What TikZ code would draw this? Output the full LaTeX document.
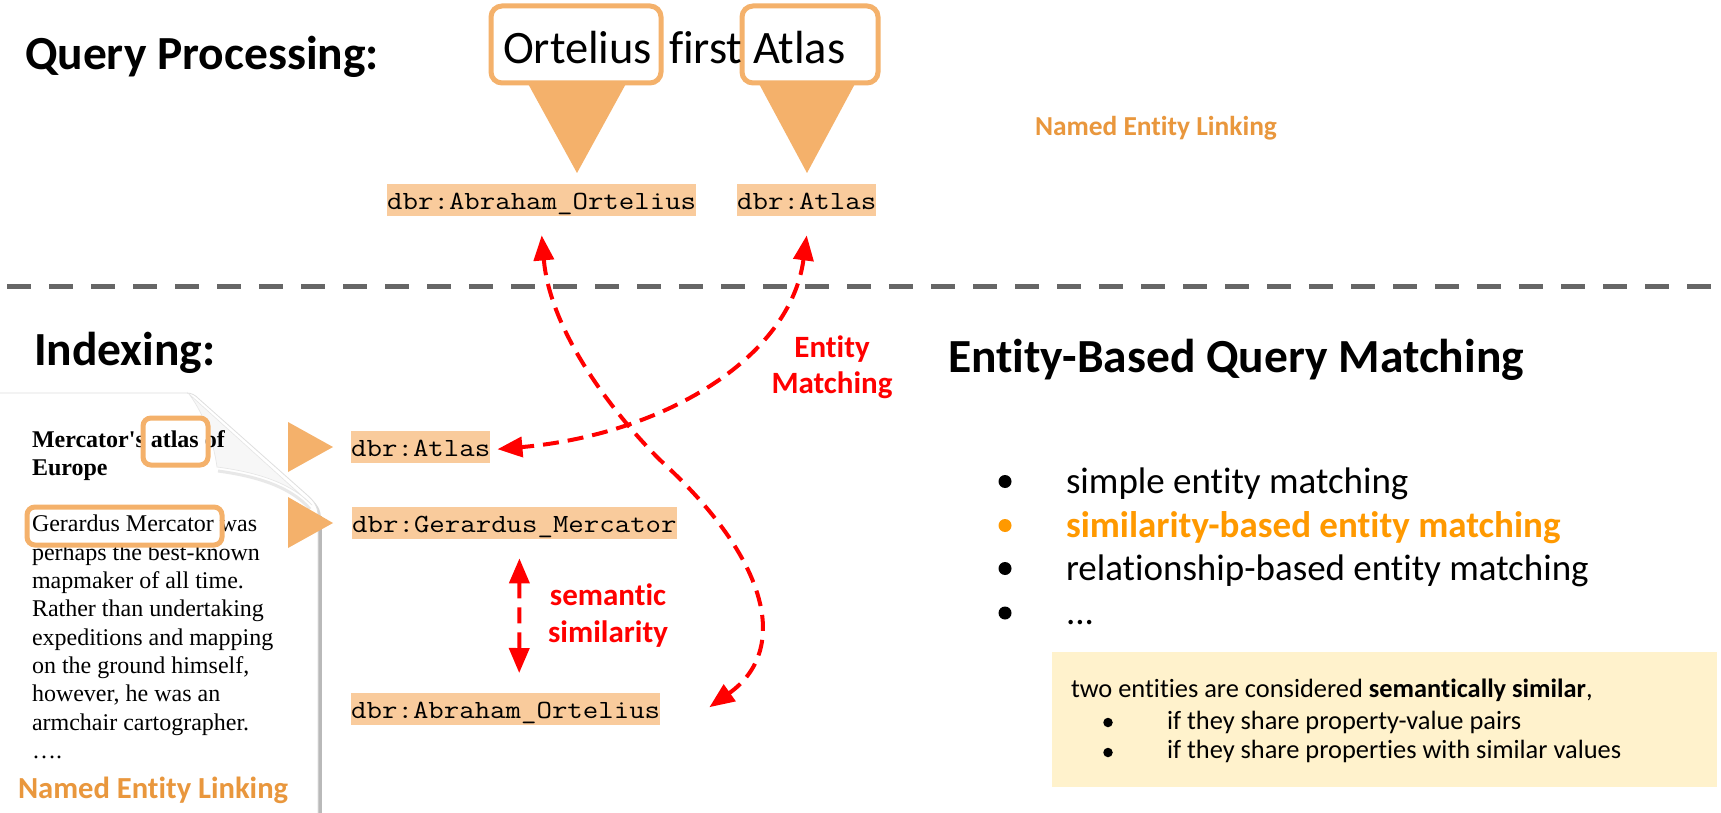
\documentclass[tikz,border=0pt]{standalone}
\usepackage{fontspec}
\setmainfont{Carlito}[Ligatures=NoCommon]
\newfontfamily\monof{Latin Modern Mono}[FakeStretch=1.145]
\newfontfamily\seriff{Liberation Serif}
\usetikzlibrary{arrows.meta}
\definecolor{hl}{HTML}{F4B16B}
\definecolor{peach}{HTML}{F9CB9C}
\definecolor{nel}{HTML}{E9973D}
\definecolor{simor}{HTML}{FF9900}
\definecolor{note}{HTML}{FFF2CC}
\definecolor{sepgray}{HTML}{666666}
\definecolor{arr}{HTML}{FF0000}
\begin{document}
\begin{tikzpicture}[x=1pt,y=-1pt,
  txt/.style={anchor=base west, inner sep=0pt, outer sep=0pt},
  heading/.style={txt, font=\fontsize{47.5}{57}\selectfont\bfseries},
  query/.style={txt, font=\fontsize{46.5}{56}\selectfont},
  qbox/.style={draw=hl, fill=white, line width=5pt, rounded corners=11pt, inner sep=0pt, minimum height=77pt},
  dbox/.style={draw=hl, line width=5pt, rounded corners=8pt, inner sep=0pt},
  entity/.style={fill=peach, anchor=north west, inner xsep=0pt, inner ysep=0pt, font=\fontsize{26.2}{30}\selectfont\monof, text height=25pt, text depth=7pt},
  link/.style={draw=arr, line width=4pt, dash pattern=on 16pt off 9pt, {Triangle[length=25pt,width=20pt]}-{Triangle[length=25pt,width=20pt]}},
  redlbl/.style={anchor=base, inner sep=0pt, text=arr, font=\fontsize{31}{36}\selectfont\bfseries},
  nellbl/.style={txt, text=nel, font=\bfseries},
  doc/.style={txt, font=\fontsize{24}{28}\selectfont\seriff},
  item/.style={txt, font=\fontsize{37}{44}\selectfont},
  bul/.style={circle, fill=black, inner sep=0pt, minimum size=13pt},
  notetxt/.style={txt, font=\fontsize{26.4}{31}\selectfont},
  nbul/.style={circle, fill=black, inner sep=0pt, minimum size=9.5pt}
]
\useasboundingbox (0,0) rectangle (1721,813);
\fill[white] (0,0) rectangle (1721,813);

% ---------- headings
\node[heading] (hq) at (25,70) {Query Processing:};
\node[heading] (hi) at (34,365) {Indexing:};
\node[heading] (hm) at (948,372) {Entity-Based Query Matching};

% ---------- query
\fill[hl] (526,80) -- (628,80) -- (577,173) -- cycle;
\fill[hl] (757,80) -- (857,80) -- (807,173) -- cycle;
\node[qbox, minimum width=170pt] (obox) at (576,44.5) {};
\node[qbox, minimum width=136pt] (abox) at (810,44.5) {};
\node[query] (qort) at (503,64) {Ortelius};
\node[query] (qfirst) at (669,64) {first};
\node[query] (qatl) at (753,64) {Atlas};

\node[entity] (tOrt) at (387,184) {dbr:Abraham\_Ortelius};
\node[entity] (tAtl) at (737,184) {dbr:Atlas};

\node[nellbl, font=\fontsize{27.4}{33}\selectfont\bfseries] (nelTop) at (1035,136) {Named Entity Linking};

% ---------- separator
\coordinate (sepL) at (7,286);
\coordinate (sepR) at (1721,286);
\draw[sepgray, line width=5pt, dash pattern=on 24pt off 18pt] (sepL) -- (sepR);

% ---------- document page
\fill[gray!30] (-5,395) -- (188,395) .. controls (194,395) and (197,397) .. (201,401) -- (309,497) .. controls (317,504) and (321,509) .. (321,519) -- (321,820) -- (-5,820) -- cycle;
\fill[gray!55] (318,516) rectangle (322,820);
\fill[white, draw=gray!25, line width=0.8pt] (-5,393) -- (186,393) .. controls (192,393) and (195,395) .. (199,399) -- (306,494) .. controls (314,501) and (318,506) .. (318,516) -- (318,820) -- (-5,820) -- cycle;
\draw[gray!30, line width=3pt, opacity=0.6] (218,471) .. controls (255,476) and (290,486) .. (310,509);
\fill[gray!6, draw=gray!20, line width=0.6pt] (189,394) .. controls (205,415) and (214,445) .. (217,467) .. controls (255,472) and (290,482) .. (312,505) -- cycle;

\node[doc, font=\fontsize{24}{28}\selectfont\seriff\bfseries] (d1) at (32,447) {Mercator's atlas of};
\node[doc, font=\fontsize{24}{28}\selectfont\seriff\bfseries] (d2) at (32,475.3) {Europe};
\node[doc] (d3) at (32,531.9) {Gerardus Mercator was};
\node[doc] (d4) at (32,560.2) {perhaps the best-known};
\node[doc] (d5) at (32,588.5) {mapmaker of all time.};
\node[doc] (d6) at (32,616.8) {Rather than undertaking};
\node[doc] (d7) at (32,645.1) {expeditions and mapping};
\node[doc] (d8) at (32,673.4) {on the ground himself,};
\node[doc] (d9) at (32,701.7) {however, he was an};
\node[doc] (d10) at (32,730) {armchair cartographer.};
\node[doc] (d11) at (32,758.3) {….};

\node[dbox, minimum width=65pt, minimum height=47pt] (hlAtlas) at (175.5,441.5) {};
\node[dbox, minimum width=195pt, minimum height=38pt] (hlMerc) at (124.5,526) {};

\node[nellbl, font=\fontsize{30.6}{36}\selectfont\bfseries] (nelBot) at (18,798) {Named Entity Linking};

\fill[hl] (288,422) -- (288,472) -- (333,447) -- cycle;
\fill[hl] (288,497) -- (288,548) -- (333,523) -- cycle;

% ---------- index entities
\node[entity] (iAtl) at (351,431) {dbr:Atlas};
\node[entity] (iMerc) at (352,507) {dbr:Gerardus\_Mercator};
\node[entity] (iOrt) at (351,693) {dbr:Abraham\_Ortelius};

% ---------- red links
\draw[link] ([yshift=-19pt]tOrt.south) .. controls (550,330) and (610,410) .. (660,460)
   .. controls (770,560) and (790,650) .. ([xshift=49pt,yshift=2pt]iOrt.east);
\draw[link] ([yshift=-19pt]tAtl.south) .. controls (790,360) and (660,435) .. ([xshift=7pt,yshift=-2pt]iAtl.east);
\draw[link] ([xshift=5pt,yshift=-19pt]iMerc.south) -- ([xshift=13.5pt,yshift=20pt]iOrt.north);

\node[redlbl] (lE1) at (832,357) {Entity};
\node[redlbl] (lE2) at (832,393) {Matching};
\node[redlbl] (lS1) at (608,605) {semantic};
\node[redlbl] (lS2) at (608,642) {similarity};

% ---------- bullet list
\node[bul] (b1) at (1005,481.5) {};
\node[bul, fill=simor] (b2) at (1005,525.5) {};
\node[bul] (b3) at (1005,568.5) {};
\node[bul] (b4) at (1005,613) {};
\node[item] (i1) at (1066,493) {simple entity matching};
\node[item, text=simor, font=\fontsize{37}{44}\selectfont\bfseries] (i2) at (1066,537) {similarity-based entity matching};
\node[item] (i3) at (1066,580) {relationship-based entity matching};
\node[item] (i4) at (1066,624) {...};

% ---------- note
\node[fill=note, anchor=north west, inner sep=0pt, minimum width=665pt, minimum height=135pt] (note) at (1052,652) {};
\node[notetxt] (n1) at (1071,697) {two entities are considered \textbf{semantically similar},};
\node[nbul] (nb1) at (1108,722.5) {};
\node[nbul] (nb2) at (1108,752.5) {};
\node[notetxt] (n2) at (1167,729) {if they share property-value pairs};
\node[notetxt] (n3) at (1167,758) {if they share properties with similar values};
\end{tikzpicture}
\end{document}
